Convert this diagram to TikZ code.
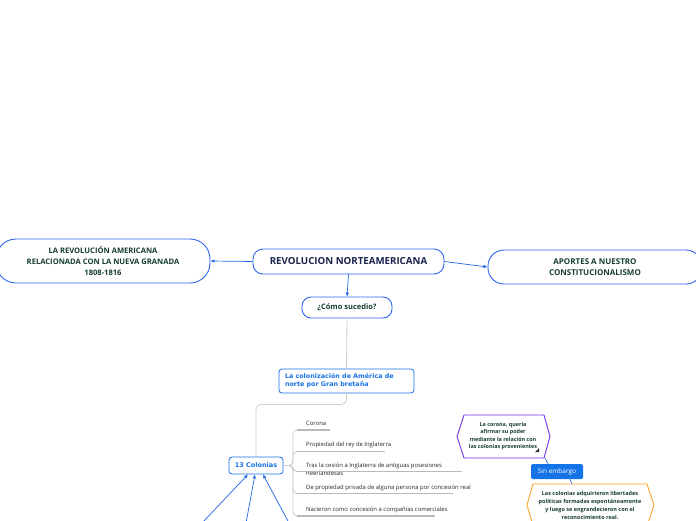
\documentclass[tikz,border=0pt]{standalone}
\usepackage{fontspec}
\setmainfont{Open Sans}
\newfontfamily\dvfont{DejaVu Sans}
\usetikzlibrary{arrows.meta,calc}
\definecolor{bordblue}{RGB}{45,100,235}
\definecolor{arrblue}{RGB}{30,100,230}
\definecolor{dkgreen}{RGB}{22,62,48}
\definecolor{navy}{RGB}{25,35,75}
\definecolor{txtblue}{RGB}{25,115,230}
\definecolor{lgray}{RGB}{205,205,205}
\definecolor{ugray}{RGB}{185,185,185}
\definecolor{purp}{RGB}{110,50,230}
\definecolor{orng}{RGB}{245,165,40}
\definecolor{sinblue}{RGB}{20,115,230}
\begin{document}
\begin{tikzpicture}[x=1pt,y=-1pt,
  topic/.style={draw=bordblue, line width=0.9pt, fill=white, align=center, inner sep=0pt},
  subbox/.style={draw=txtblue, line width=0.8pt, fill=white, rounded corners=3pt, inner sep=0pt, text=txtblue},
  conn/.style={draw=arrblue, line width=0.7pt, -{Latex[length=4pt,width=3.5pt]}},
  gline/.style={draw=lgray, line width=0.8pt},
  uline/.style={draw=ugray, line width=1.3pt},
  itemtxt/.style={anchor=west, inner sep=0pt, font=\fontsize{5.9}{8}\selectfont, text=black!85, align=left},
]
\useasboundingbox (0,0) rectangle (696,520);
\clip (0,0) rectangle (696,520);

% main topics
\node[topic, rounded corners=20pt, minimum width=214pt, minimum height=44pt, text=dkgreen,
  font=\bfseries\fontsize{7.6}{11}\selectfont] (left) at (103,261)
  {LA REVOLUCIÓN AMERICANA\\RELACIONADA CON LA NUEVA GRANADA\\1808-1816};
\node[topic, rounded corners=10pt, minimum width=191pt, minimum height=25pt, text=navy,
  font=\bfseries\fontsize{9.7}{11}\selectfont] (center) at (348.5,261.5)
  {REVOLUCION NORTEAMERICANA};
\node[topic, rounded corners=16pt, minimum width=214pt, minimum height=34pt, text=dkgreen,
  font=\bfseries\fontsize{8}{11}\selectfont] (right) at (595,267)
  {APORTES A NUESTRO\\CONSTITUCIONALISMO};
\node[topic, rounded corners=9pt, minimum width=90pt, minimum height=21pt, text=dkgreen,
  font=\bfseries\fontsize{7.5}{9}\selectfont] (como) at (347,307.5)
  {¿Cómo sucedio?};

% sub topics
\node[subbox, minimum width=135pt, minimum height=24pt, align=left, text width=123pt,
  font=\dvfont\bfseries\fontsize{6.4}{8}\selectfont] (colon) at (346.5,381)
  {La colonización de América de\\norte por Gran bretaña};
\node[subbox, minimum width=54pt, minimum height=17pt,
  font=\dvfont\bfseries\fontsize{6.5}{8}\selectfont] (c13) at (256,465.5)
  {13 Colonias};

% connectors between main topics
\draw[conn] (center.west) -- (left.east);
\draw[conn] (center.east) -- (right.west);
\draw[conn] (center.south) -- (como.north);
\draw[gline] (como.south) -- (colon.north);
\draw[gline, rounded corners=5pt] (colon.south) -- ($(colon.south)+(0,11)$) -| (c13.north);

% items
\node[itemtxt] (i1) at (306,423) {Corona};
\node[itemtxt] (i2) at (306,444.5) {Propiedad del rey de Inglaterra};
\node[itemtxt, anchor=north west] (i3) at (306,463) {Tras la cesión a Inglaterra de antiguas posesiones\\neerlandesas};
\node[itemtxt] (i4) at (306,488) {De propiedad privada de alguna persona por concesión real};
\node[itemtxt] (i5) at (306,509.5) {Nacieron como concesión a compañías comerciales};

\coordinate (u1s) at (297,430);   \coordinate (u1e) at (330,430);
\coordinate (u2s) at (297,451.5); \coordinate (u2e) at (385,451.5);
\coordinate (u3s) at (297,471.5); \coordinate (u3e) at (462,471.5);
\coordinate (u4s) at (297,493.5); \coordinate (u4e) at (453,493.5);
\coordinate (u5s) at (297,516);   \coordinate (u5e) at (435,516);
\foreach \k in {1,...,5}{
  \draw[gline, rounded corners=4pt] (c13.east) -- (293,465.5) |- (u\k s);
  \draw[uline] (u\k s) -- (u\k e);
}

% arrows from below into 13 Colonias
\coordinate (b1) at (202,523);
\coordinate (b2) at (246,523);
\coordinate (b3) at (289,523);
\coordinate (t1) at ($(c13.south)+(-8,0)$);
\coordinate (t2) at ($(c13.south)+(-1,0)$);
\coordinate (t3) at ($(c13.south)+(7,0)$);
\draw[conn] (b1) -- (t1);
\draw[conn] (b2) -- (t2);
\draw[conn] (b3) -- (t3);

% purple hexagon
\draw[draw=purp, line width=0.9pt, fill=white, line join=round]
  (457,436.5) -- (464,415) -- (544,415) -- (550,436.5) -- (544,458) -- (464,458) -- cycle;
\node[inner sep=0pt, align=center, text=dkgreen, font=\bfseries\fontsize{5.4}{7.3}\selectfont] (corona) at (503,436)
  {La corona, quería\\afirmar su poder\\mediante la relación con\\las colonias provenientes};
\fill[black!80] (539,448) -- (539,452) -- (535,452) -- cycle;
\coordinate (hexp) at (545,458);

% Sin embargo
\node[fill=sinblue, rounded corners=1.5pt, minimum width=52pt, minimum height=15pt, inner sep=0pt,
  text=white, font=\fontsize{6.5}{8}\selectfont] (sin) at (557,471.5) {Sin embargo};
\draw[draw=arrblue, line width=0.6pt] (hexp) -- ($(sin.north)+(-9,0)$);

% orange hexagon
\draw[draw=orng, line width=0.9pt, fill=white, line join=round]
  (527,505) -- (533,484) -- (647,484) -- (654,505) -- (647,526) -- (533,526) -- cycle;
\node[inner sep=0pt, align=center, text=dkgreen, font=\bfseries\fontsize{5.5}{8}\selectfont] (libert) at (590,505)
  {Las colonias adquirieron libertades\\políticas formadas espontáneamente\\y luego se engrandecieron con el\\reconocimiento real.};
\coordinate (hexo) at (572,484);
\draw[draw=arrblue, line width=0.6pt] ($(sin.south)+(13,0)$) -- (hexo);
\end{tikzpicture}
\end{document}
